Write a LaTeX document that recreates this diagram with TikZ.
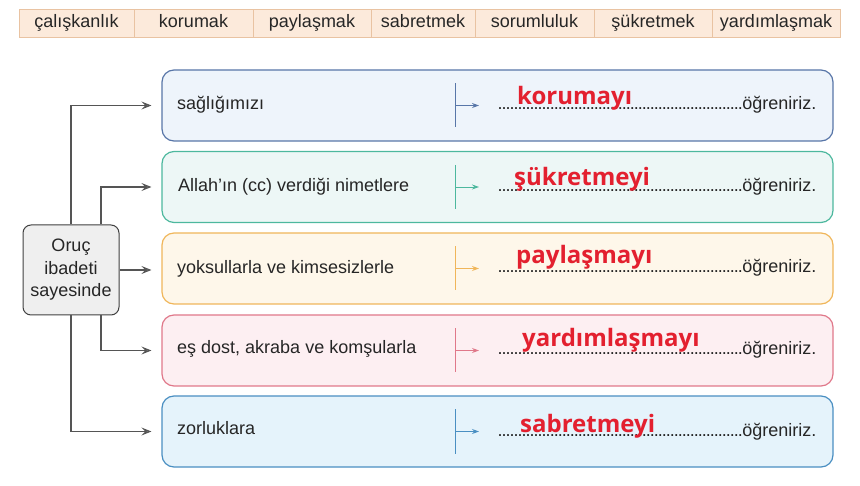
\documentclass[tikz,border=0pt]{standalone}
\usepackage{fontspec}
\setmainfont{Liberation Sans}
\newfontfamily\redfont{Open Sans}
\usetikzlibrary{arrows.meta}
\definecolor{bankfill}{HTML}{FCEADB}
\definecolor{bankdraw}{HTML}{E9C3A2}
\definecolor{cAdraw}{HTML}{5876A8}\definecolor{cAfill}{HTML}{EEF4FB}
\definecolor{cBdraw}{HTML}{4DB89E}\definecolor{cBfill}{HTML}{EDF7F6}
\definecolor{cCdraw}{HTML}{F0B65A}\definecolor{cCfill}{HTML}{FEF7EA}
\definecolor{cDdraw}{HTML}{E0788A}\definecolor{cDfill}{HTML}{FDEFF2}
\definecolor{cEdraw}{HTML}{4A8FC2}\definecolor{cEfill}{HTML}{E5F3FB}
\definecolor{answer}{HTML}{E3202F}
\definecolor{linegray}{HTML}{555555}
\definecolor{orugfill}{HTML}{EFEFEF}
\newcommand{\dotsline}{\hbox to 244pt{\leaders\hbox to 4pt{\hss.\hss}\hfill}}
\begin{document}
\begin{tikzpicture}[x=1pt,y=-1pt,
  every node/.style={font=\fontsize{18}{22.5}\selectfont, text=black!85},
  bankcell/.style={draw=bankdraw, fill=bankfill, line width=0.8pt, minimum height=28pt, text height=13pt, text depth=4pt, inner sep=0pt},
  rowbox/.style={draw=#1draw, fill=#1fill, line width=1.2pt, rounded corners=12pt, minimum width=671pt, minimum height=71pt, inner sep=0pt},
  rowtext/.style={anchor=base west, inner sep=0pt},
  anstext/.style={anchor=base west, inner sep=0pt, font=\redfont\bfseries\fontsize{24}{28}\selectfont, text=answer},
  conn/.style={draw=linegray, line width=1.1pt, -{Stealth[length=10pt,width=8pt,inset=4pt,fill=linegray!70]}, shorten >=10pt},
  tick/.style={draw=#1draw, line width=0.9pt},
  innerarrow/.style={draw=#1draw, line width=0.9pt, -{Stealth[length=7pt,width=5pt,inset=2.5pt]}}
]
\useasboundingbox (0,0) rectangle (860,486);

% word bank
\node[bankcell, minimum width=115pt] (w1) at (76.5,23) {çalışkanlık};
\node[bankcell, minimum width=119pt] (w2) at (193.5,23) {korumak};
\node[bankcell, minimum width=118pt] (w3) at (312,23) {paylaşmak};
\node[bankcell, minimum width=104pt] (w4) at (423,23) {sabretmek};
\node[bankcell, minimum width=119pt] (w5) at (534.5,23) {sorumluluk};
\node[bankcell, minimum width=118pt] (w6) at (653,23) {şükretmek};
\node[bankcell, minimum width=128pt] (w7) at (776,23) {yardımlaşmak};

% row boxes
\node[rowbox=cA] (b1) at (497.5,105.5) {};
\node[rowbox=cB] (b2) at (497.5,187) {};
\node[rowbox=cC] (b3) at (497.5,268.5) {};
\node[rowbox=cD] (b4) at (497.5,350.5) {};
\node[rowbox=cE] (b5) at (497.5,431.5) {};

% left box
\node[draw=black!75, fill=orugfill, line width=1pt, rounded corners=8pt,
      minimum width=96pt, minimum height=90pt, align=center, inner sep=0pt] (o) at (71,270)
      {Oruç\\ibadeti\\sayesinde};

% connectors
\draw[conn] (o.north) |- (b1.west);
\draw[conn] ([xshift=30pt]o.north) |- (b2.west);
\draw[conn] (o.east) -- (o.east -| b3.west);
\draw[conn] ([xshift=30pt]o.south) |- (b4.west);
\draw[conn] (o.south) |- (b5.west);

% left texts
\node[rowtext] (l1) at (177,110) {sağlığımızı};
\node[rowtext] (l2) at (178,192) {Allah’ın (cc) verdiği nimetlere};
\node[rowtext] (l3) at (177,274) {yoksullarla ve kimsesizlerle};
\node[rowtext] (l4) at (177,354) {eş dost, akraba ve komşularla};
\node[rowtext] (l5) at (177,435) {zorluklara};

% inner ticks and arrows
\foreach \c/\y in {cA/105.5, cB/187, cC/268.5, cD/350.5, cE/431.5}{
  \coordinate (t\c) at (455,\y);
  \coordinate (ta\c) at (455,\y-22);
  \coordinate (tb\c) at (455,\y+22);
  \coordinate (h\c) at (479,\y);
  \draw[tick=\c] (ta\c) -- (tb\c);
  \draw[innerarrow=\c] (t\c) -- (h\c);
}

% dotted lines with öğreniriz.
\node[rowtext] (d1) at (498,110) {\dotsline öğreniriz.};
\node[rowtext] (d2) at (498,192) {\dotsline öğreniriz.};
\node[rowtext] (d3) at (498,273) {\dotsline öğreniriz.};
\node[rowtext] (d4) at (498,355) {\dotsline öğreniriz.};
\node[rowtext] (d5) at (498,436) {\dotsline öğreniriz.};

% answers
\node[anstext] (a1) at (517,105) {korumayı};
\node[anstext] (a2) at (514,186) {şükretmeyi};
\node[anstext] (a3) at (516,264) {paylaşmayı};
\node[anstext] (a4) at (522,347) {yardımlaşmayı};
\node[anstext] (a5) at (520,432) {sabretmeyi};
\end{tikzpicture}
\end{document}
